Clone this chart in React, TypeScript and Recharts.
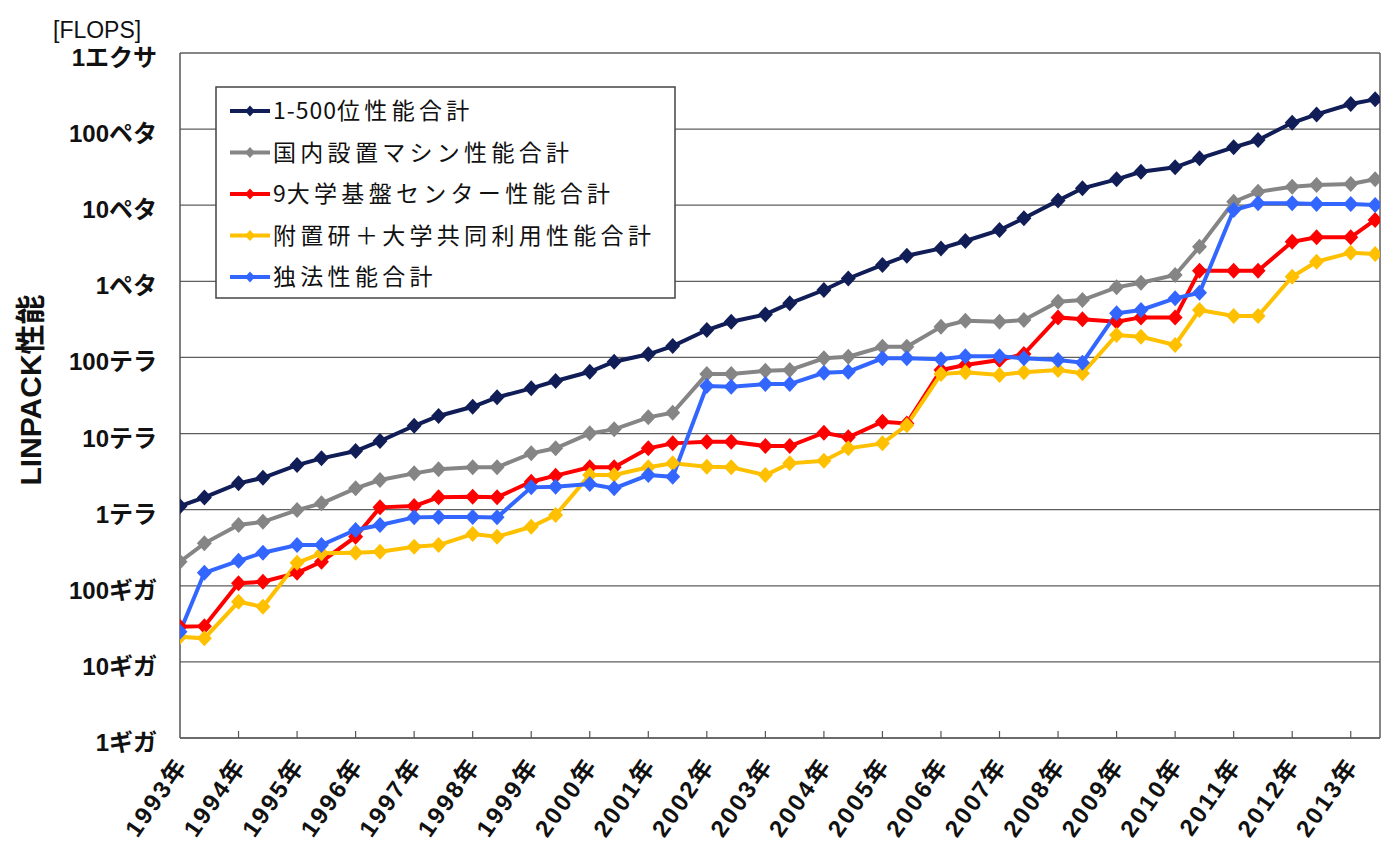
import React from "react";
import { LineChart, Line, XAxis, YAxis, CartesianGrid, ReferenceLine } from "recharts";

const dates = [
  "1993/06", "1993/11", "1994/06", "1994/11", "1995/06", "1995/11", "1996/06", "1996/11",
  "1997/06", "1997/11", "1998/06", "1998/11", "1999/06", "1999/11", "2000/06", "2000/11",
  "2001/06", "2001/11", "2002/06", "2002/11", "2003/06", "2003/11", "2004/06", "2004/11",
  "2005/06", "2005/11", "2006/06", "2006/11", "2007/06", "2007/11", "2008/06", "2008/11",
  "2009/06", "2009/11", "2010/06", "2010/11", "2011/06", "2011/11", "2012/06", "2012/11",
  "2013/06", "2013/11",
];

// values in GFLOPS
const top500Total = [
  1110, 1450, 2220, 2620, 3850, 4720, 5890, 7970, 12650, 17000, 22500, 29900, 39300, 49000,
  64900, 87800, 110000, 141000, 229000, 294000, 368000, 514000, 769000, 1090000, 1640000,
  2170000, 2710000, 3390000, 4720000, 6730000, 11500000, 16700000, 21900000, 27500000,
  31500000, 41300000, 57700000, 71900000, 121000000, 156000000, 214000000, 246000000,
];
const domesticTotal = [
  207, 361, 628, 693, 988, 1210, 1905, 2450, 3000, 3390, 3600, 3600, 5500, 6400, 10070, 11350,
  16330, 18760, 60500, 60500, 66800, 68300, 97300, 102000, 138000, 138000, 253000, 303000,
  294000, 310000, 540000, 568000, 834000, 959000, 1210000, 2850000, 11100000, 15000000,
  17500000, 18400000, 19000000, 21900000,
];
const univCenterTotal = [
  28.9, 29.5, 108, 113, 148, 207, 441, 1072, 1115, 1452, 1478, 1452, 2328, 2800, 3600, 3600,
  6400, 7430, 7800, 7800, 6850, 6850, 10250, 8910, 14290, 13600, 68300, 79400, 92400, 111000,
  336000, 317000, 294000, 336000, 336000, 1380000, 1380000, 1380000, 3310000, 3790000,
  3790000, 6400000,
];
const instituteTotal = [
  21.4, 20.4, 61.6, 53, 200, 267, 272, 280, 326, 343, 478, 441, 596, 849, 2850, 2850, 3600,
  4060, 3660, 3600, 2850, 4060, 4390, 6400, 7430, 12900, 60500, 64000, 59000, 64000, 68300,
  61800, 197000, 187000, 146000, 420000, 350000, 350000, 1150000, 1810000, 2380000, 2280000,
];
const agencyTotal = [
  24.9, 148, 213, 272, 343, 343, 540, 628, 792, 800, 800, 792, 1963, 2000, 2170, 1905, 2850,
  2700, 42100, 41200, 44700, 44700, 62900, 64900, 97300, 97300, 94400, 104000, 104000, 97300,
  92400, 85200, 380000, 420000, 598000, 708000, 8650000, 10600000, 10600000, 10400000,
  10400000, 10100000,
];

const yearLabels = [
  "1993年", "1994年", "1995年", "1996年", "1997年", "1998年", "1999年", "2000年", "2001年",
  "2002年", "2003年", "2004年", "2005年", "2006年", "2007年", "2008年", "2009年", "2010年",
  "2011年", "2012年", "2013年",
];
const yTickValues = [1, 10, 100, 1e3, 1e4, 1e5, 1e6, 1e7, 1e8, 1e9];
const yTickLabels = [
  "1ギガ", "10ギガ", "100ギガ", "1テラ", "10テラ", "100テラ", "1ペタ", "10ペタ", "100ペタ", "1エクサ",
];

const seriesNames = [
  "1-500位性能合計",
  "国内設置マシン性能合計",
  "9大学基盤センター性能合計",
  "附置研＋大学共同利用性能合計",
  "独法性能合計",
];
const seriesKeys = ["top500", "domestic", "univ", "inst", "agency"];
const seriesColors = ["#111D57", "#858585", "#FF0000", "#FFC000", "#3366FF"];

const data = dates.map((d, i) => {
  const [yy, mm] = d.split("/").map(Number);
  return {
    t: yy - 1993 + (mm - 6) / 12,
    top500: top500Total[i],
    domestic: domesticTotal[i],
    univ: univCenterTotal[i],
    inst: instituteTotal[i],
    agency: agencyTotal[i],
  };
});

const yearTicks = yearLabels.map((_, i) => i);

const LABEL_FONT = "'Liberation Sans', 'Noto Sans CJK JP', sans-serif";
const CJK_FONT = "'Noto Sans CJK JP', 'Liberation Sans', sans-serif";

const makeDot = (color: string) => (props: any) => {
  const { cx, cy, index } = props;
  if (cx == null || cy == null) return <g key={`d-${index}`} />;
  const w = 7.5;
  const h = 8;
  return (
    <polygon
      key={`d-${color}-${index}`}
      points={`${cx},${cy - h} ${cx + w},${cy} ${cx},${cy + h} ${cx - w},${cy}`}
      fill={color}
    />
  );
};

const XTick = (props: any) => {
  const { x, y, payload } = props;
  const idx = Math.round(payload.value);
  const ax = x + 9;
  const ay = y + 27;
  return (
    <g>
      {idx > 0 && <line x1={x} y1={y} x2={x} y2={y - 7} stroke="#555" strokeWidth={1.2} />}
      <text
        x={ax}
        y={ay}
        textAnchor="end"
        transform={`rotate(-55 ${ax} ${ay})`}
        fontSize={24}
        fontWeight="bold"
        letterSpacing={2.5}
        fontFamily={LABEL_FONT}
        fill="#111"
      >
        {yearLabels[idx]}
      </text>
    </g>
  );
};

const YTick = (props: any) => {
  const { x, y, payload } = props;
  const idx = Math.round(Math.log10(payload.value));
  return (
    <text
      x={x - 23}
      y={y + 13}
      textAnchor="end"
      fontSize={24}
      fontWeight="bold"
      fontFamily={LABEL_FONT}
      fill="#111"
    >
      {yTickLabels[idx]}
    </text>
  );
};

const legendRows = [111, 152.5, 194, 235.5, 277];

const splitLabel = (s: string) => {
  const m = s.match(/^([0-9\-]+)(.*)$/);
  return m ? [m[1], m[2]] : ["", s];
};

export default function App() {
  return (
    <div
      style={{
        position: "absolute",
        left: 0,
        top: 0,
        width: 1383,
        height: 846,
        background: "#fff",
        overflow: "hidden",
      }}
    >
      <LineChart
        width={1383}
        height={846}
        data={data}
        margin={{ top: 53, right: 3, bottom: 0, left: 0 }}
      >
        <CartesianGrid horizontal vertical={false} stroke="#5e5e5e" strokeWidth={1.2} />
        <XAxis
          dataKey="t"
          type="number"
          domain={[0, 20.5]}
          ticks={yearTicks}
          interval={0}
          height={108}
          tickSize={0}
          tickMargin={0}
          tickLine={false}
          axisLine={{ stroke: "#555", strokeWidth: 1.5 }}
          tick={<XTick />}
          allowDataOverflow
        />
        <YAxis
          type="number"
          scale="log"
          domain={[1, 1e9]}
          ticks={yTickValues}
          interval={0}
          width={180}
          tickSize={0}
          tickMargin={0}
          tickLine={false}
          axisLine={{ stroke: "#555", strokeWidth: 1.5 }}
          tick={<YTick />}
          allowDataOverflow
        />
        <ReferenceLine x={20.5} stroke="#5e5e5e" strokeWidth={1.5} />
        <ReferenceLine y={1e9} stroke="#5e5e5e" strokeWidth={1.2} />
        {seriesKeys.map((k, i) => (
          <Line
            key={k}
            type="linear"
            dataKey={k}
            name={seriesNames[i]}
            stroke={seriesColors[i]}
            strokeWidth={4}
            dot={makeDot(seriesColors[i])}
            activeDot={false}
            isAnimationActive={false}
          />
        ))}
      </LineChart>
      <svg
        width={1383}
        height={846}
        style={{ position: "absolute", left: 0, top: 0, pointerEvents: "none" }}
      >
        <text x={53} y={38} fontSize={23} fontFamily={LABEL_FONT} fill="#111">
          [FLOPS]
        </text>
        <text
          x={0}
          y={0}
          transform="translate(41 390) rotate(-90)"
          textAnchor="middle"
          fontSize={30}
          fontWeight="bold"
          fontFamily={LABEL_FONT}
          fill="#111"
        >
          LINPACK性能
        </text>
        <rect x={216} y={87} width={459} height={211} fill="#fff" stroke="#444" strokeWidth={1.5} />
        {seriesNames.map((name, i) => {
          const cy = legendRows[i];
          const c = seriesColors[i];
          const [head, rest] = splitLabel(name);
          return (
            <g key={name}>
              <line x1={230} y1={cy} x2={270} y2={cy} stroke={c} strokeWidth={4} />
              <polygon points={`250,${cy - 5.5} 255,${cy} 250,${cy + 5.5} 245,${cy}`} fill={c} />
              <text x={273} y={cy + 8} fontSize={23} fontFamily={CJK_FONT} fill="#111">
                {head && <tspan letterSpacing={1}>{head}</tspan>}
                <tspan letterSpacing={4.3}>{rest}</tspan>
              </text>
            </g>
          );
        })}
      </svg>
    </div>
  );
}
